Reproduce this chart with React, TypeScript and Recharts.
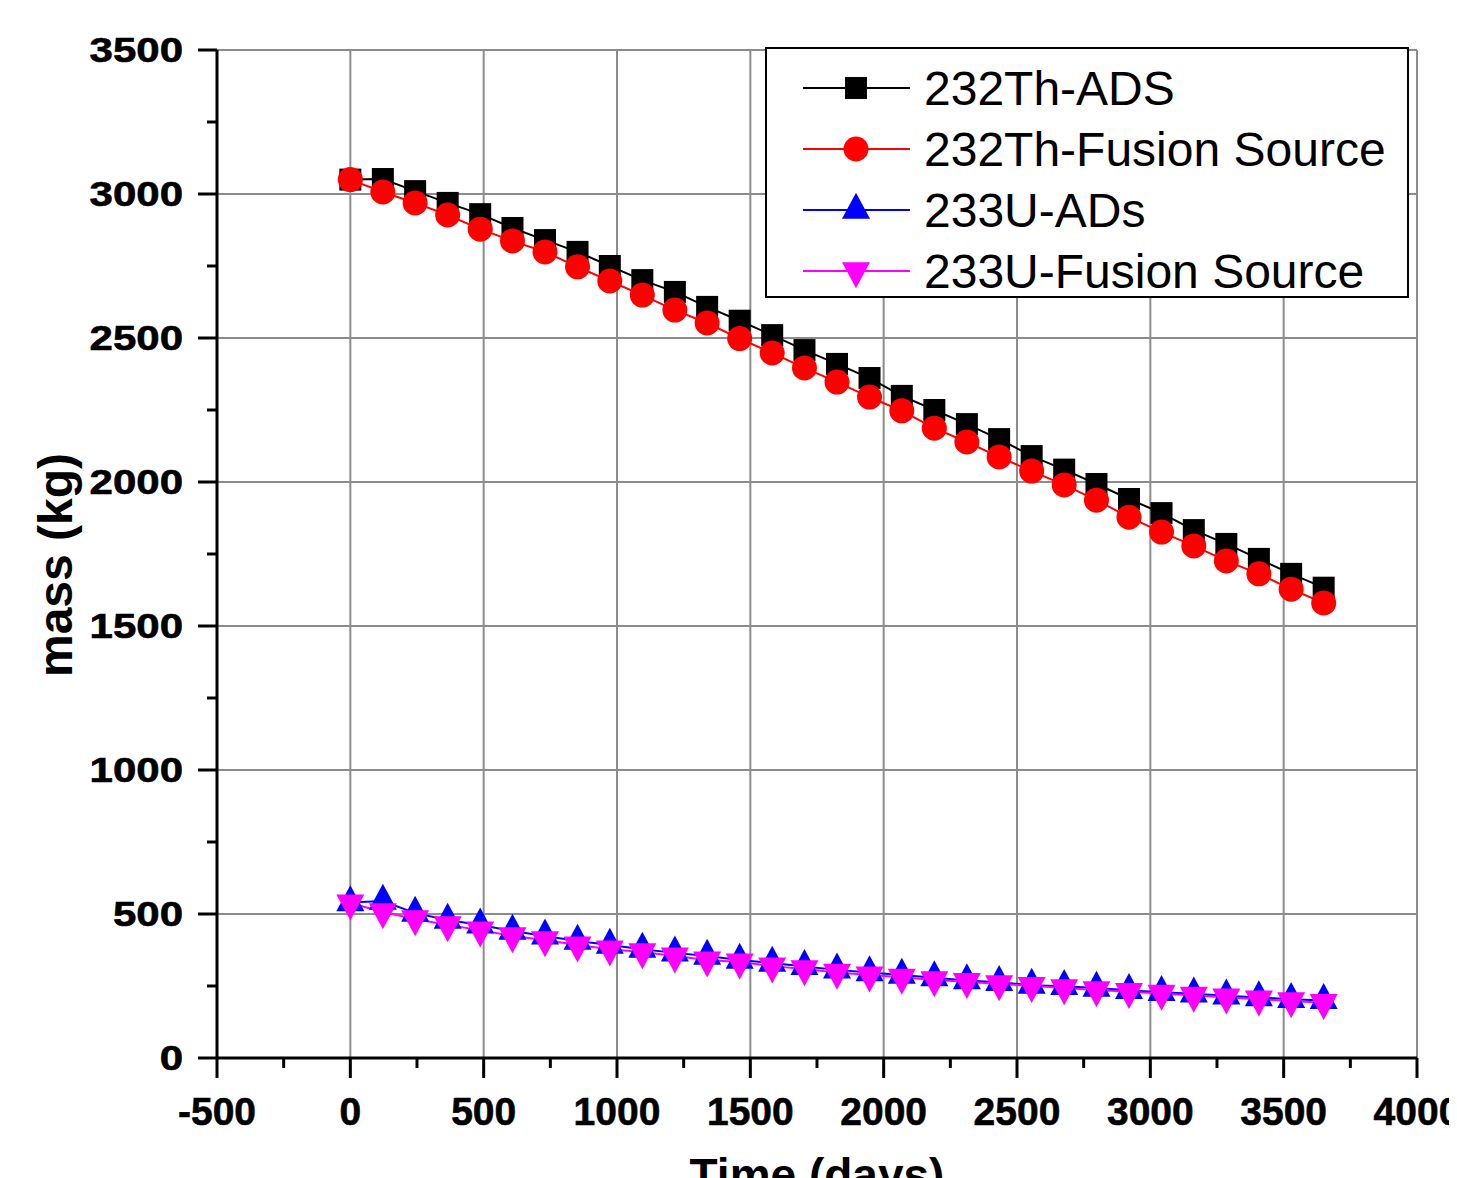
import { CartesianGrid, Legend, Line, LineChart, XAxis, YAxis } from "recharts";

// time (days), 31 steps over 10 years
const days = [0, 122, 243, 365, 487, 608, 730, 852, 973, 1095, 1217, 1338, 1460, 1582, 1703, 1825, 1947, 2068, 2190, 2312, 2433, 2555, 2677, 2798, 2920, 3042, 3163, 3285, 3407, 3528, 3650];

const th232Ads = [3050, 3052, 3010, 2969, 2930, 2882, 2840, 2799, 2750, 2701, 2660, 2608, 2560, 2510, 2458, 2410, 2361, 2299, 2250, 2201, 2149, 2090, 2043, 1993, 1941, 1892, 1833, 1785, 1733, 1681, 1633];
const th232Fusion = [3050, 3007, 2969, 2927, 2878, 2837, 2799, 2747, 2698, 2649, 2597, 2552, 2498, 2448, 2396, 2347, 2295, 2247, 2187, 2139, 2087, 2038, 1990, 1937, 1878, 1826, 1778, 1726, 1681, 1628, 1580];
const u233Ads = [540, 545, 503, 479, 462, 441, 424, 406, 392, 378, 365, 354, 340, 330, 318, 306, 297, 288, 279, 269, 263, 253, 249, 243, 235, 228, 223, 216, 210, 204, 200];
const u233Fusion = [538, 507, 483, 462, 444, 424, 410, 392, 378, 368, 354, 340, 333, 319, 309, 297, 288, 280, 271, 265, 257, 251, 243, 236, 230, 224, 217, 211, 204, 198, 192];

const xTicks = [-500, -250, 0, 250, 500, 750, 1000, 1250, 1500, 1750, 2000, 2250, 2500, 2750, 3000, 3250, 3500, 3750, 4000];
const yTicks = [0, 250, 500, 750, 1000, 1250, 1500, 1750, 2000, 2250, 2500, 2750, 3000, 3250, 3500];
const xMajor = [-500, 0, 500, 1000, 1500, 2000, 2500, 3000, 3500, 4000];
const yMajor = [0, 500, 1000, 1500, 2000, 2500, 3000, 3500];

const seriesNames = ["232Th-ADS", "232Th-Fusion Source", "233U-ADs", "233U-Fusion Source"];
const seriesColors = ["#000000", "#ff0000", "#0000ff", "#ff00ff"];
const seriesKeys = ["thAds", "thFusion", "uAds", "uFusion"];
const seriesShapes = ["square", "circle", "up", "down"];

const rows = days.map((d, i) => ({
  day: d,
  thAds: th232Ads[i],
  thFusion: th232Fusion[i],
  uAds: u233Ads[i],
  uFusion: u233Fusion[i],
}));

const FONT = '"Liberation Sans", Arial, sans-serif';

function Marker({ shape, cx, cy, color }: { shape: string; cx: number; cy: number; color: string }) {
  if (shape === "square") return <rect x={cx - 11} y={cy - 11} width={22} height={22} fill={color} />;
  if (shape === "circle") return <circle cx={cx} cy={cy} r={12.5} fill={color} />;
  const w = 28;
  const h = 26;
  if (shape === "up") {
    const pts = `${cx},${cy - (2 * h) / 3} ${cx - w / 2},${cy + h / 3} ${cx + w / 2},${cy + h / 3}`;
    return <polygon points={pts} fill={color} />;
  }
  const pts = `${cx - w / 2},${cy - h / 3} ${cx + w / 2},${cy - h / 3} ${cx},${cy + (2 * h) / 3}`;
  return <polygon points={pts} fill={color} />;
}

function makeDot(shape: string, color: string) {
  return (p: any) => {
    if (p.cx == null || p.cy == null) return <g key={`e${p.index}`} />;
    return (
      <g key={`d${shape}${p.index}`}>
        <Marker shape={shape} cx={p.cx} cy={p.cy} color={color} />
      </g>
    );
  };
}

function XTick(p: any) {
  const v = p.payload.value;
  const major = v % 500 === 0;
  return (
    <g>
      <line x1={p.x} x2={p.x} y1={p.y} y2={p.y + (major ? 20 : 10)} stroke="#000" strokeWidth={3} />
      {major && (
        <text x={p.x} y={p.y + 67} textAnchor="middle" fontSize={39} fontWeight="bold" fontFamily={FONT} fill="#000" stroke="#000" strokeWidth={0.6}>
          {v}
        </text>
      )}
    </g>
  );
}

function YTick(p: any) {
  const v = p.payload.value;
  const major = v % 500 === 0;
  return (
    <g>
      <line x1={p.x - (major ? 19 : 10)} x2={p.x} y1={p.y} y2={p.y} stroke="#000" strokeWidth={3} />
      {major && (
        <text
          transform={`translate(${p.x - 34},${p.y + 12}) scale(1.2,1)`}
          textAnchor="end"
          fontSize={35}
          fontWeight="bold"
          fontFamily={FONT}
          fill="#000"
          stroke="#000"
          strokeWidth={0.6}
        >
          {v}
        </text>
      )}
    </g>
  );
}

function YTitle(p: any) {
  const vb = p.viewBox;
  const x = vb.x + 64;
  const y = vb.y + vb.height / 2 + 11;
  return (
    <text transform={`translate(${x},${y}) rotate(-90)`} textAnchor="middle" fontSize={48} fontWeight="bold" fontFamily={FONT} fill="#000">
      mass (kg)
    </text>
  );
}

function XTitle(p: any) {
  const vb = p.viewBox;
  return (
    <text x={vb.x + vb.width / 2} y={vb.y + 133} textAnchor="middle" fontSize={46} fontWeight="bold" fontFamily={FONT} fill="#000">
      Time (days)
    </text>
  );
}

function LegendBox() {
  const rowsY = [41, 102, 163, 224];
  return (
    <svg width={644} height={251} style={{ display: "block" }}>
      <rect x={1} y={1} width={642} height={249} fill="#fff" stroke="#000" strokeWidth={2} />
      {seriesNames.map((name, i) => (
        <g key={name}>
          <line x1={38} x2={145} y1={rowsY[i]} y2={rowsY[i]} stroke={seriesColors[i]} strokeWidth={2} />
          <Marker shape={seriesShapes[i]} cx={91} cy={rowsY[i]} color={seriesColors[i]} />
          <text x={159} y={rowsY[i] + 17} fontSize={48} fontFamily={FONT} fill="#000">
            {name}
          </text>
        </g>
      ))}
    </svg>
  );
}

export default function App() {
  return (
    <div style={{ width: 1449, height: 1170, background: "#fff" }}>
      <LineChart width={1449} height={1170} data={rows} margin={{ top: 42, right: 40, bottom: 0, left: 0 }}>
        <CartesianGrid stroke="#8c8c8c" strokeWidth={2} verticalValues={xMajor} horizontalValues={yMajor} />
        <XAxis
          type="number"
          dataKey="day"
          domain={[-500, 4000]}
          ticks={xTicks}
          interval={0}
          height={120}
          tickSize={0}
          tickMargin={0}
          tickLine={false}
          tick={XTick}
          axisLine={{ stroke: "#000", strokeWidth: 3 }}
          label={<XTitle />}
          allowDataOverflow
        />
        <YAxis
          type="number"
          domain={[0, 3500]}
          ticks={yTicks}
          interval={0}
          width={209}
          tickSize={0}
          tickMargin={0}
          tickLine={false}
          tick={YTick}
          axisLine={{ stroke: "#000", strokeWidth: 3 }}
          label={<YTitle />}
          allowDataOverflow
        />
        <Legend
          layout="vertical"
          align="center"
          verticalAlign="middle"
          content={() => <LegendBox />}
          wrapperStyle={{ left: 757, top: 39, width: 644, height: 251 }}
        />
        {seriesKeys.map((k, i) => (
          <Line
            key={k}
            type="linear"
            dataKey={k}
            name={seriesNames[i]}
            stroke={seriesColors[i]}
            strokeWidth={2}
            dot={makeDot(seriesShapes[i], seriesColors[i])}
            activeDot={false}
            isAnimationActive={false}
          />
        ))}
      </LineChart>
    </div>
  );
}
